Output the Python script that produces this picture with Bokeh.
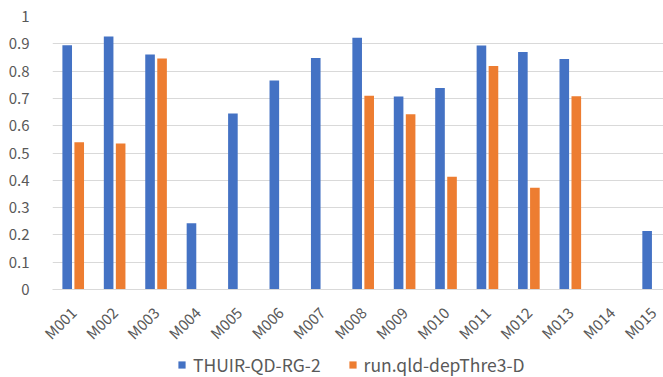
from bokeh.plotting import figure
from bokeh.layouts import column
from bokeh.models import ColumnDataSource, FixedTicker, Legend, LegendItem, Range1d
from bokeh.embed import file_html
from bokeh.resources import INLINE
import math

# Per-topic scores for the two runs
topics = ["M001", "M002", "M003", "M004", "M005", "M006", "M007", "M008",
          "M009", "M010", "M011", "M012", "M013", "M014", "M015"]
thuir = [0.895, 0.927, 0.861, 0.243, 0.645, 0.766, 0.848, 0.922,
         0.707, 0.738, 0.894, 0.870, 0.844, 0.0, 0.214]
qld = [0.539, 0.535, 0.846, 0.0, 0.0, 0.0, 0.0, 0.710,
       0.642, 0.413, 0.819, 0.373, 0.708, 0.0, 0.0]
series_names = ["THUIR-QD-RG-2", "run.qld-depThre3-D"]
y_ticks = [0, 0.1, 0.2, 0.3, 0.4, 0.5, 0.6, 0.7, 0.8, 0.9, 1.0]
y_tick_labels = ["0", "0.1", "0.2", "0.3", "0.4", "0.5", "0.6", "0.7", "0.8", "0.9", "1"]

BLUE = "#4472C4"
ORANGE = "#ED7D31"
TEXT = "#595959"
GRID = "#D9D9D9"
FONT = "Noto Sans CJK JP"

pos = list(range(1, len(topics) + 1))
src = ColumnDataSource(dict(
    x1=[p - 0.145 for p in pos],
    x2=[p + 0.145 for p in pos],
    a=thuir,
    b=qld,
))

p = figure(width=663, height=353, output_backend="svg", toolbar_location=None,
           x_range=Range1d(0.5, 15.25), y_range=Range1d(0, 1),
           min_border_left=52, min_border_right=0, min_border_top=16,
           min_border_bottom=64)
p.outline_line_color = None
p.background_fill_color = "white"
p.border_fill_color = "white"

p.vbar(x="x1", top="a", width=0.232, source=src, fill_color=BLUE, line_color=None)
p.vbar(x="x2", top="b", width=0.232, source=src, fill_color=ORANGE, line_color=None)

# Axes
p.xgrid.grid_line_color = None
p.ygrid.grid_line_color = GRID
p.ygrid.grid_line_width = 1

p.yaxis.ticker = FixedTicker(ticks=y_ticks)
p.yaxis.major_label_overrides = dict(zip(y_ticks, y_tick_labels))
p.yaxis.axis_line_color = None
p.yaxis.major_tick_line_color = None
p.yaxis.minor_tick_line_color = None
p.yaxis.major_label_standoff = 17
p.yaxis.major_label_text_font = FONT
p.yaxis.major_label_text_font_size = "15px"
p.yaxis.major_label_text_color = TEXT

p.xaxis.ticker = FixedTicker(ticks=pos)
p.xaxis.major_label_overrides = dict(zip(pos, topics))
p.xaxis.axis_line_color = GRID
p.xaxis.major_tick_line_color = None
p.xaxis.minor_tick_line_color = None
p.xaxis.major_label_orientation = math.pi / 4
p.xaxis.major_label_standoff = 14
p.xaxis.major_label_text_font = FONT
p.xaxis.major_label_text_font_size = "15px"
p.xaxis.major_label_text_color = TEXT

# Series key in a strip under the chart (zero-height swatch renderers)
k = figure(width=663, height=24, output_backend="svg", toolbar_location=None,
           x_range=Range1d(0, 1), y_range=Range1d(0, 1),
           min_border=0, x_axis_type=None, y_axis_type=None)
k.outline_line_color = None
k.xgrid.grid_line_color = None
k.ygrid.grid_line_color = None
k1 = k.vbar(x=[-10], top=[0], bottom=[0], width=0.1, fill_color=BLUE, line_color=None)
k2 = k.vbar(x=[-10], top=[0], bottom=[0], width=0.1, fill_color=ORANGE, line_color=None)
legend = Legend(items=[LegendItem(label=series_names[0], renderers=[k1]),
                       LegendItem(label=series_names[1], renderers=[k2])],
                orientation="horizontal", location=(125, 0),
                glyph_width=9, glyph_height=9, label_standoff=7, spacing=27,
                padding=0, margin=0, border_line_color=None,
                background_fill_alpha=0,
                label_text_font=FONT, label_text_font_size="17.5px",
                label_text_color=TEXT)
k.add_layout(legend, "center")

open("out.html", "w").write(file_html(column(p, k, spacing=0), INLINE))
